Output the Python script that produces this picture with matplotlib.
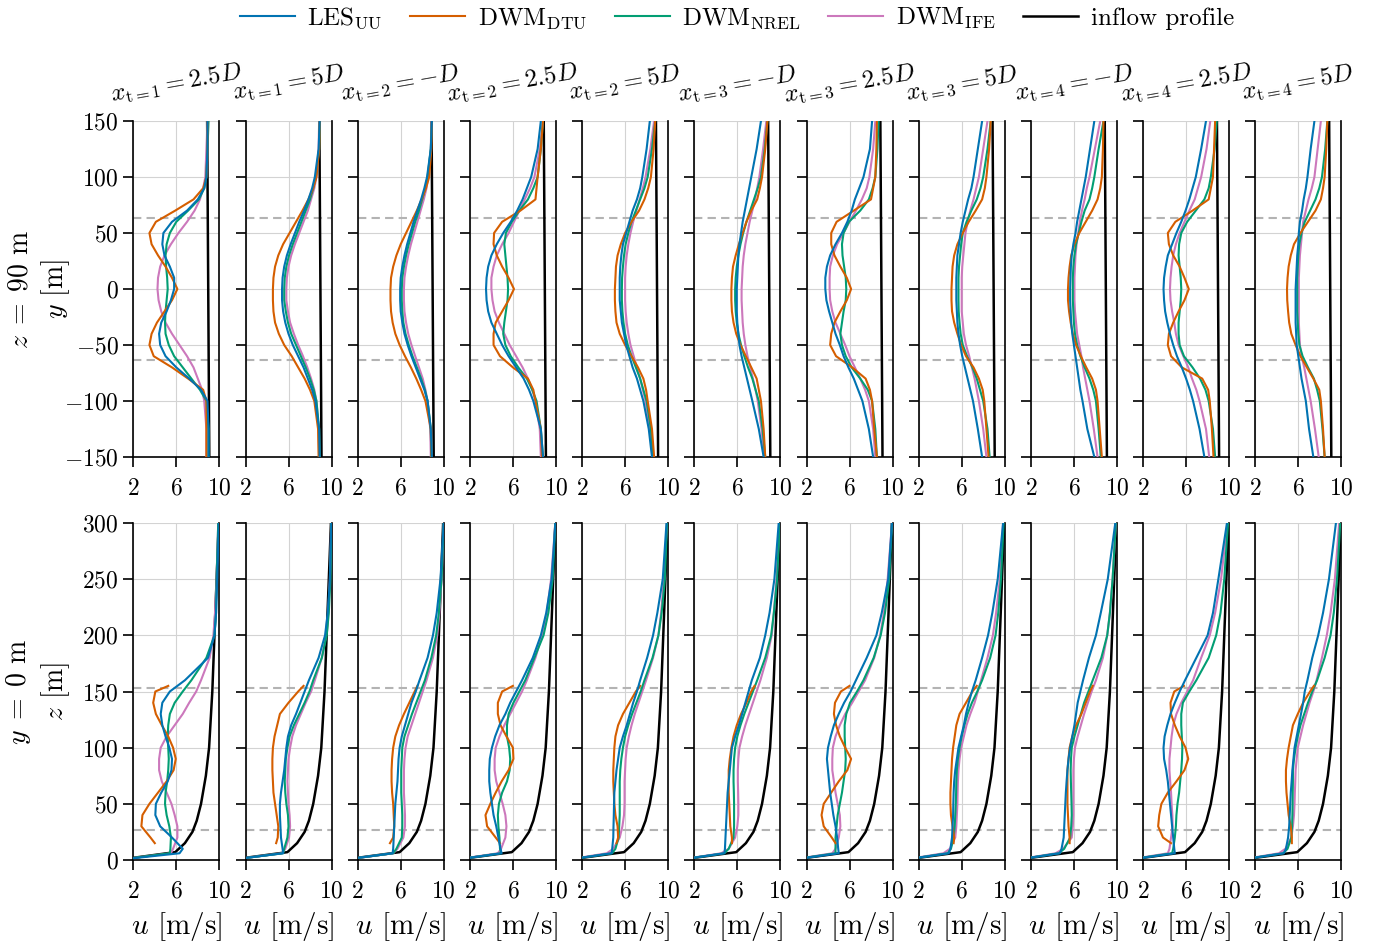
import matplotlib
matplotlib.use("Agg")
import matplotlib.pyplot as plt
from matplotlib.lines import Line2D

plt.rcParams.update({
    "font.family": "serif",
    "font.serif": ["cmr10"],
    "mathtext.fontset": "cm",
    "axes.formatter.use_mathtext": True,
})

TITLES = [r"$x_{\mathrm{t}=1} = 2.5D$", r"$x_{\mathrm{t}=1} = 5D$", r"$x_{\mathrm{t}=2} = -D$",
          r"$x_{\mathrm{t}=2} = 2.5D$", r"$x_{\mathrm{t}=2} = 5D$", r"$x_{\mathrm{t}=3} = -D$",
          r"$x_{\mathrm{t}=3} = 2.5D$", r"$x_{\mathrm{t}=3} = 5D$", r"$x_{\mathrm{t}=4} = -D$",
          r"$x_{\mathrm{t}=4} = 2.5D$", r"$x_{\mathrm{t}=4} = 5D$"]

# --- lateral profiles at hub height (z = 90 m), u [m/s] per panel ---
Y_TOP = [-150, -125, -100, -90, -80, -70, -60, -50, -40, -30, -20, -10, 0,
         10, 20, 30, 40, 50, 60, 70, 80, 90, 100, 125, 150]

LES_TOP = [
    [9.0, 9.0, 8.9, 8.3, 7.2, 6.0, 5.0, 4.5, 4.4, 4.6, 5.1, 5.5, 5.8, 5.8, 5.4, 4.9, 4.7, 4.8, 5.6, 7.0, 8.0, 8.6, 8.8, 8.9, 8.9],
    [8.9, 8.85, 8.5, 8.2, 7.8, 7.4, 6.9, 6.4, 6.0, 5.7, 5.5, 5.4, 5.4, 5.45, 5.6, 5.85, 6.2, 6.6, 7.0, 7.45, 7.85, 8.2, 8.45, 8.8, 8.9],
    [8.9, 8.8, 8.5, 8.2, 7.8, 7.4, 7.0, 6.65, 6.35, 6.15, 6.0, 5.95, 5.95, 6.0, 6.15, 6.35, 6.6, 6.9, 7.2, 7.55, 7.9, 8.2, 8.45, 8.8, 8.9],
    [8.8, 8.6, 7.9, 7.5, 7.0, 6.3, 5.6, 5.0, 4.5, 4.0, 3.7, 3.55, 3.5, 3.55, 3.7, 4.0, 4.5, 5.1, 5.8, 6.4, 6.9, 7.3, 7.7, 8.3, 8.6],
    [8.5, 8.2, 7.7, 7.4, 7.1, 6.7, 6.4, 6.1, 5.9, 5.7, 5.6, 5.5, 5.5, 5.5, 5.55, 5.65, 5.8, 6.1, 6.4, 6.7, 7.1, 7.4, 7.6, 8.0, 8.3],
    [8.45, 8.0, 7.4, 7.15, 6.9, 6.65, 6.4, 6.2, 6.1, 6.0, 5.95, 5.95, 5.95, 6.0, 6.05, 6.1, 6.2, 6.35, 6.5, 6.7, 6.9, 7.1, 7.3, 7.8, 8.2],
    [8.2, 7.8, 7.2, 6.8, 6.4, 5.9, 5.45, 5.1, 4.7, 4.4, 4.1, 3.85, 3.75, 3.75, 3.9, 4.2, 4.7, 5.3, 5.8, 6.2, 6.5, 6.9, 7.3, 7.9, 8.1],
    [7.9, 7.5, 7.05, 6.8, 6.55, 6.3, 6.05, 5.85, 5.7, 5.6, 5.55, 5.5, 5.5, 5.5, 5.55, 5.6, 5.75, 5.9, 6.1, 6.35, 6.6, 6.9, 7.1, 7.5, 7.9],
    [7.9, 7.25, 6.8, 6.6, 6.45, 6.3, 6.15, 6.0, 5.85, 5.75, 5.7, 5.65, 5.65, 5.68, 5.72, 5.8, 5.95, 6.15, 6.3, 6.5, 6.7, 6.9, 7.1, 7.5, 7.9],
    [7.7, 7.25, 6.65, 6.35, 6.0, 5.6, 5.15, 4.8, 4.5, 4.25, 4.05, 3.95, 3.9, 3.95, 4.1, 4.3, 4.7, 5.1, 5.55, 5.95, 6.3, 6.6, 6.9, 7.4, 7.85],
    [7.4, 7.0, 6.7, 6.5, 6.3, 6.15, 6.0, 5.85, 5.8, 5.75, 5.75, 5.75, 5.75, 5.8, 5.85, 5.9, 6.0, 6.05, 6.15, 6.35, 6.5, 6.7, 6.85, 7.15, 7.5],
]
DTU_TOP = [
    [8.8, 8.8, 8.8, 8.5, 7.1, 5.6, 3.9, 3.5, 3.7, 4.2, 4.9, 5.6, 6.1, 5.6, 5.0, 4.3, 3.7, 3.5, 4.1, 5.9, 7.6, 8.5, 8.8, 8.9, 8.9],
    [8.8, 8.75, 8.4, 8.0, 7.5, 6.9, 6.3, 5.6, 5.1, 4.75, 4.6, 4.55, 4.55, 4.6, 4.75, 5.05, 5.5, 6.1, 6.7, 7.3, 7.85, 8.3, 8.6, 8.85, 8.9],
    [8.85, 8.8, 8.3, 7.9, 7.45, 6.95, 6.4, 5.9, 5.5, 5.25, 5.1, 5.05, 5.05, 5.1, 5.3, 5.6, 6.0, 6.5, 7.0, 7.5, 7.95, 8.35, 8.65, 8.85, 8.9],
    [8.7, 8.6, 8.1, 7.9, 7.4, 6.0, 4.8, 4.2, 4.2, 4.4, 5.0, 5.6, 6.1, 5.6, 5.0, 4.5, 4.2, 4.25, 5.0, 6.7, 8.1, 8.2, 8.3, 8.6, 8.8],
    [8.7, 8.5, 8.1, 7.95, 7.7, 7.2, 6.6, 6.0, 5.5, 5.2, 5.1, 5.05, 5.05, 5.1, 5.15, 5.3, 5.6, 6.0, 6.6, 7.3, 7.8, 8.15, 8.4, 8.65, 8.8],
    [8.6, 8.45, 8.2, 8.0, 7.8, 7.3, 6.8, 6.3, 5.9, 5.65, 5.5, 5.45, 5.45, 5.5, 5.6, 5.85, 6.15, 6.5, 6.85, 7.3, 7.85, 8.1, 8.3, 8.6, 8.8],
    [8.55, 8.3, 8.1, 7.9, 7.5, 6.25, 4.75, 4.2, 4.3, 4.6, 5.15, 5.75, 6.15, 5.75, 5.15, 4.6, 4.3, 4.3, 4.8, 6.4, 8.0, 8.2, 8.4, 8.5, 8.55],
    [8.5, 8.3, 8.1, 7.95, 7.6, 7.1, 6.4, 5.95, 5.6, 5.3, 5.1, 5.05, 5.05, 5.1, 5.15, 5.3, 5.6, 6.1, 6.65, 7.3, 7.9, 8.15, 8.3, 8.55, 8.7],
    [8.6, 8.4, 8.2, 8.05, 7.7, 7.15, 6.65, 6.2, 5.9, 5.7, 5.55, 5.45, 5.45, 5.5, 5.6, 5.75, 6.05, 6.5, 7.1, 7.7, 8.2, 8.45, 8.6, 8.7, 8.75],
    [8.55, 8.4, 8.2, 8.05, 7.5, 5.6, 4.6, 4.3, 4.4, 4.8, 5.3, 5.85, 6.25, 5.85, 5.4, 4.8, 4.4, 4.3, 5.0, 6.6, 8.1, 8.3, 8.5, 8.6, 8.7],
    [8.45, 8.3, 8.1, 7.95, 7.4, 6.8, 6.2, 5.75, 5.35, 5.15, 5.05, 4.97, 4.95, 5.0, 5.1, 5.3, 5.6, 6.2, 6.9, 7.6, 8.1, 8.3, 8.45, 8.6, 8.7],
]
NREL_TOP = [
    [9.0, 9.0, 8.8, 8.2, 7.4, 6.6, 5.8, 5.3, 5.0, 4.95, 5.0, 5.1, 5.2, 5.15, 5.05, 5.0, 5.1, 5.4, 6.0, 7.1, 8.1, 8.6, 8.8, 8.9, 9.0],
    [8.9, 8.85, 8.6, 8.35, 8.0, 7.6, 7.15, 6.7, 6.25, 5.95, 5.75, 5.6, 5.6, 5.65, 5.8, 6.05, 6.4, 6.8, 7.2, 7.6, 8.0, 8.3, 8.55, 8.85, 8.9],
    [8.85, 8.8, 8.5, 8.25, 7.9, 7.5, 7.1, 6.75, 6.45, 6.25, 6.15, 6.1, 6.1, 6.15, 6.3, 6.5, 6.75, 7.05, 7.35, 7.7, 8.0, 8.3, 8.5, 8.8, 8.9],
    [8.8, 8.6, 8.2, 7.8, 7.3, 6.5, 5.8, 5.3, 5.1, 5.2, 5.35, 5.5, 5.55, 5.5, 5.4, 5.3, 5.2, 5.35, 5.9, 6.6, 7.4, 7.9, 8.3, 8.6, 8.8],
    [8.6, 8.4, 8.0, 7.7, 7.4, 7.0, 6.6, 6.25, 6.0, 5.85, 5.75, 5.7, 5.7, 5.72, 5.8, 5.9, 6.05, 6.3, 6.6, 7.0, 7.4, 7.8, 8.1, 8.5, 8.8],
    [8.6, 8.35, 8.0, 7.7, 7.4, 7.0, 6.65, 6.35, 6.1, 5.95, 5.85, 5.8, 5.8, 5.85, 5.95, 6.1, 6.3, 6.55, 6.85, 7.2, 7.55, 7.9, 8.2, 8.55, 8.8],
    [8.55, 8.4, 8.1, 7.7, 7.0, 6.2, 5.65, 5.3, 5.15, 5.3, 5.45, 5.65, 5.7, 5.65, 5.5, 5.35, 5.3, 5.45, 5.95, 7.0, 7.8, 8.15, 8.4, 8.6, 8.7],
    [8.6, 8.4, 8.0, 7.7, 7.4, 7.0, 6.5, 6.1, 5.9, 5.8, 5.72, 5.7, 5.7, 5.7, 5.75, 5.85, 5.95, 6.1, 6.45, 6.9, 7.4, 7.75, 8.0, 8.4, 8.7],
    [8.5, 8.3, 8.05, 7.8, 7.45, 7.0, 6.6, 6.3, 6.1, 6.0, 5.95, 5.9, 5.9, 5.9, 5.95, 6.05, 6.2, 6.45, 6.7, 7.0, 7.45, 7.7, 7.9, 8.3, 8.75],
    [8.7, 8.5, 8.1, 7.8, 7.3, 6.6, 5.8, 5.4, 5.3, 5.3, 5.4, 5.5, 5.55, 5.5, 5.4, 5.3, 5.35, 5.55, 6.1, 6.9, 7.7, 8.1, 8.3, 8.65, 8.85],
    [8.45, 8.25, 8.0, 7.75, 7.45, 6.9, 6.4, 6.1, 6.0, 5.95, 5.9, 5.9, 5.9, 5.9, 5.95, 6.0, 6.1, 6.3, 6.6, 7.1, 7.6, 7.95, 8.2, 8.5, 8.7],
]
IFE_TOP = [
    [8.8, 8.8, 8.6, 8.4, 8.0, 7.6, 7.0, 6.3, 5.6, 5.0, 4.6, 4.35, 4.25, 4.3, 4.5, 4.9, 5.5, 6.2, 7.0, 7.7, 8.2, 8.5, 8.7, 8.8, 8.9],
    [8.85, 8.8, 8.6, 8.4, 8.1, 7.75, 7.35, 6.9, 6.5, 6.15, 5.95, 5.8, 5.8, 5.85, 6.0, 6.25, 6.6, 7.0, 7.4, 7.8, 8.1, 8.4, 8.6, 8.8, 8.85],
    [8.8, 8.75, 8.5, 8.3, 8.05, 7.7, 7.35, 7.0, 6.7, 6.5, 6.35, 6.3, 6.3, 6.35, 6.5, 6.7, 6.95, 7.25, 7.55, 7.85, 8.15, 8.4, 8.55, 8.8, 8.85],
    [8.6, 8.5, 8.1, 7.8, 7.4, 6.9, 6.3, 5.7, 5.2, 4.7, 4.3, 4.1, 4.0, 4.0, 4.2, 4.5, 5.0, 5.6, 6.1, 6.6, 7.1, 7.6, 8.0, 8.5, 8.8],
    [8.6, 8.3, 7.9, 7.65, 7.4, 7.1, 6.8, 6.5, 6.3, 6.15, 6.05, 6.0, 6.0, 6.0, 6.05, 6.15, 6.3, 6.5, 6.75, 7.05, 7.35, 7.65, 7.9, 8.35, 8.7],
    [8.5, 8.25, 7.9, 7.7, 7.45, 7.2, 6.95, 6.75, 6.6, 6.5, 6.45, 6.4, 6.4, 6.45, 6.5, 6.6, 6.75, 6.95, 7.15, 7.4, 7.65, 7.85, 8.05, 8.4, 8.7],
    [8.4, 8.2, 7.8, 7.45, 7.0, 6.5, 6.0, 5.6, 5.15, 4.7, 4.4, 4.2, 4.15, 4.15, 4.2, 4.45, 4.85, 5.45, 6.0, 6.6, 7.15, 7.6, 7.85, 8.2, 8.4],
    [8.3, 8.0, 7.6, 7.4, 7.2, 6.95, 6.7, 6.4, 6.2, 6.1, 6.0, 6.0, 6.0, 6.0, 6.05, 6.15, 6.25, 6.35, 6.55, 6.8, 7.1, 7.35, 7.6, 8.0, 8.4],
    [8.2, 7.85, 7.45, 7.25, 7.05, 6.85, 6.7, 6.5, 6.3, 6.2, 6.1, 6.05, 6.05, 6.05, 6.1, 6.15, 6.25, 6.4, 6.55, 6.75, 7.0, 7.2, 7.45, 7.95, 8.45],
    [8.15, 7.85, 7.25, 6.95, 6.55, 6.2, 5.75, 5.3, 5.05, 4.9, 4.7, 4.55, 4.5, 4.55, 4.65, 4.8, 5.05, 5.4, 5.85, 6.3, 6.8, 7.1, 7.4, 7.9, 8.25],
    [7.9, 7.55, 7.15, 6.95, 6.75, 6.55, 6.3, 6.15, 6.1, 6.05, 6.05, 6.05, 6.05, 6.05, 6.1, 6.15, 6.25, 6.35, 6.45, 6.7, 6.95, 7.25, 7.5, 7.8, 8.1],
]
Y_INFLOW = [-150, 0, 150]
U_INFLOW_Y = [9.07, 8.97, 8.87]

# --- vertical profiles at y = 0 m ---
Z_BOT = [0, 6, 10, 20, 30, 40, 50, 60, 70, 80, 90, 100, 110, 120, 130, 140,
         150, 160, 180, 200, 220, 250, 300]
Z_DTU = [15, 20, 30, 40, 50, 60, 70, 80, 90, 100, 110, 120, 130, 140, 150, 155]

LES_BOT = [
    [0.5, 6.3, 6.6, 5.6, 4.5, 4.05, 4.1, 4.6, 5.2, 5.55, 5.6, 5.35, 5.0, 4.7, 4.55, 4.7, 5.4, 6.8, 8.95, 9.55, 9.7, 9.8, 9.95],
    [0.5, 5.5, 5.45, 5.3, 5.25, 5.2, 5.2, 5.3, 5.45, 5.6, 5.7, 5.8, 5.95, 6.25, 6.7, 7.1, 7.5, 7.9, 8.8, 9.4, 9.65, 9.85, 9.98],
    [0.5, 5.25, 5.3, 5.35, 5.4, 5.45, 5.5, 5.6, 5.7, 5.75, 5.8, 5.9, 6.1, 6.4, 6.7, 7.0, 7.4, 7.75, 8.5, 9.0, 9.35, 9.7, 10.0],
    [0.5, 4.95, 4.85, 4.65, 4.45, 4.2, 4.05, 3.9, 3.8, 3.8, 3.85, 4.05, 4.35, 4.75, 5.3, 5.75, 6.3, 6.85, 7.85, 8.6, 9.1, 9.6, 9.95],
    [0.5, 4.75, 4.8, 4.9, 4.92, 4.95, 4.97, 5.0, 5.1, 5.2, 5.35, 5.5, 5.8, 6.15, 6.45, 6.75, 7.1, 7.4, 8.05, 8.6, 9.0, 9.5, 9.85],
    [0.5, 4.8, 4.85, 4.9, 4.95, 5.0, 5.05, 5.1, 5.2, 5.3, 5.4, 5.5, 5.8, 6.15, 6.45, 6.75, 7.05, 7.35, 8.1, 8.6, 9.0, 9.45, 9.85],
    [0.5, 5.0, 4.95, 4.85, 4.7, 4.5, 4.35, 4.2, 4.1, 4.0, 3.9, 4.0, 4.25, 4.55, 5.0, 5.5, 6.1, 6.6, 7.6, 8.5, 9.0, 9.6, 9.95],
    [0.5, 4.8, 4.95, 5.1, 5.15, 5.2, 5.22, 5.25, 5.3, 5.4, 5.55, 5.7, 5.95, 6.2, 6.4, 6.65, 6.95, 7.3, 7.9, 8.45, 8.85, 9.35, 9.85],
    [0.5, 4.7, 4.85, 5.05, 5.1, 5.15, 5.2, 5.25, 5.32, 5.4, 5.5, 5.65, 5.85, 6.05, 6.2, 6.35, 6.6, 6.85, 7.4, 8.05, 8.5, 9.15, 9.85],
    [0.5, 4.95, 4.9, 4.8, 4.7, 4.6, 4.5, 4.4, 4.3, 4.15, 3.95, 3.9, 4.0, 4.25, 4.55, 4.95, 5.4, 5.9, 6.95, 8.0, 8.5, 9.0, 9.8],
    [0.5, 4.65, 4.85, 5.05, 5.15, 5.2, 5.25, 5.3, 5.38, 5.45, 5.55, 5.65, 5.85, 6.05, 6.25, 6.45, 6.6, 6.85, 7.3, 7.85, 8.3, 8.85, 9.5],
]
DTU_BOT = [
    [4.0, 3.6, 2.75, 2.85, 3.5, 4.3, 5.1, 5.75, 5.95, 5.7, 5.25, 4.65, 4.1, 3.85, 4.05, 5.25],
    [4.85, 5.0, 5.05, 4.9, 4.75, 4.6, 4.55, 4.5, 4.5, 4.55, 4.7, 4.95, 5.2, 6.0, 6.9, 7.4],
    [5.0, 5.3, 5.4, 5.35, 5.3, 5.2, 5.15, 5.15, 5.2, 5.3, 5.5, 5.85, 6.3, 6.8, 7.3, 7.55],
    [4.8, 4.4, 3.6, 3.45, 3.9, 4.4, 4.95, 5.6, 6.05, 6.0, 5.4, 4.85, 4.6, 4.6, 5.0, 6.0],
    [5.2, 5.35, 5.3, 5.1, 5.0, 4.95, 4.9, 4.9, 4.95, 5.0, 5.1, 5.35, 5.8, 6.4, 7.0, 7.4],
    [5.5, 5.5, 5.35, 5.3, 5.25, 5.2, 5.2, 5.2, 5.3, 5.45, 5.65, 5.95, 6.35, 6.85, 7.3, 7.6],
    [4.7, 4.35, 3.6, 3.4, 3.6, 4.3, 5.0, 5.8, 6.15, 5.6, 5.1, 4.75, 4.55, 4.65, 5.2, 6.0],
    [5.25, 5.3, 5.15, 5.0, 4.95, 4.95, 5.0, 5.05, 5.1, 5.2, 5.35, 5.5, 5.8, 6.4, 7.0, 7.4],
    [5.6, 5.6, 5.5, 5.45, 5.4, 5.4, 5.4, 5.4, 5.5, 5.6, 5.85, 6.2, 6.7, 7.1, 7.5, 7.75],
    [4.6, 3.85, 3.4, 3.5, 3.7, 4.3, 5.1, 5.85, 6.2, 5.95, 5.4, 4.95, 4.6, 4.55, 4.9, 5.8],
    [5.4, 5.4, 5.3, 5.1, 5.0, 4.9, 4.85, 4.85, 4.95, 5.1, 5.3, 5.5, 5.95, 6.45, 7.1, 7.45],
]
NREL_BOT = [
    [0.5, 5.4, 5.45, 5.5, 5.35, 5.1, 4.95, 5.0, 5.15, 5.25, 5.3, 5.25, 5.2, 5.25, 5.4, 5.85, 6.6, 7.4, 8.8, 9.55, 9.7, 9.75, 9.9],
    [0.5, 5.5, 5.6, 5.9, 6.0, 5.95, 5.8, 5.7, 5.65, 5.7, 5.75, 5.9, 6.1, 6.5, 7.0, 7.5, 7.95, 8.3, 9.1, 9.55, 9.75, 9.9, 9.98],
    [0.5, 5.3, 5.6, 6.1, 6.15, 6.15, 6.1, 6.05, 6.05, 6.05, 6.1, 6.15, 6.35, 6.7, 7.05, 7.45, 7.85, 8.25, 8.85, 9.3, 9.55, 9.8, 10.0],
    [0.5, 4.9, 4.8, 4.75, 4.65, 4.6, 4.7, 5.0, 5.45, 5.7, 5.75, 5.65, 5.45, 5.45, 5.6, 6.05, 6.6, 7.15, 8.0, 8.85, 9.3, 9.7, 9.95],
    [0.5, 4.8, 5.1, 5.4, 5.45, 5.5, 5.5, 5.5, 5.5, 5.55, 5.65, 5.8, 6.0, 6.3, 6.65, 7.05, 7.45, 7.8, 8.55, 9.1, 9.4, 9.7, 9.9],
    [0.5, 4.8, 5.2, 5.65, 5.7, 5.7, 5.7, 5.68, 5.65, 5.65, 5.7, 5.8, 6.0, 6.3, 6.65, 7.05, 7.45, 7.85, 8.6, 9.15, 9.4, 9.7, 9.95],
    [0.5, 4.7, 4.7, 4.7, 4.8, 4.9, 5.1, 5.3, 5.45, 5.6, 5.65, 5.6, 5.55, 5.55, 5.7, 6.05, 6.7, 7.3, 8.25, 8.9, 9.3, 9.7, 9.95],
    [0.5, 4.7, 5.0, 5.25, 5.35, 5.4, 5.45, 5.48, 5.5, 5.55, 5.65, 5.8, 6.0, 6.25, 6.55, 6.95, 7.45, 7.9, 8.65, 9.15, 9.4, 9.65, 9.9],
    [0.5, 4.6, 5.1, 5.65, 5.75, 5.8, 5.78, 5.75, 5.72, 5.7, 5.73, 5.8, 6.05, 6.35, 6.65, 6.95, 7.35, 7.75, 8.55, 9.1, 9.35, 9.6, 9.9],
    [0.5, 4.7, 4.8, 4.95, 5.05, 5.1, 5.2, 5.35, 5.45, 5.55, 5.62, 5.65, 5.6, 5.55, 5.55, 5.7, 6.3, 6.95, 8.1, 8.8, 9.2, 9.55, 9.9],
    [0.5, 4.6, 5.0, 5.35, 5.42, 5.45, 5.47, 5.48, 5.5, 5.5, 5.6, 5.75, 5.95, 6.2, 6.55, 6.9, 7.3, 7.75, 8.45, 9.0, 9.3, 9.6, 9.9],
]
IFE_BOT = [
    [0.5, 5.5, 5.7, 6.1, 6.1, 5.85, 5.55, 5.1, 4.65, 4.4, 4.4, 4.55, 5.1, 5.85, 6.6, 7.2, 7.85, 8.3, 9.1, 9.45, 9.6, 9.75, 9.9],
    [0.5, 5.4, 5.7, 6.05, 6.15, 6.1, 6.0, 5.95, 5.9, 5.95, 6.0, 6.15, 6.35, 6.7, 7.15, 7.6, 8.1, 8.45, 9.1, 9.5, 9.7, 9.85, 9.98],
    [0.5, 5.3, 5.7, 6.25, 6.4, 6.4, 6.35, 6.3, 6.3, 6.3, 6.35, 6.45, 6.65, 7.0, 7.35, 7.7, 8.05, 8.4, 9.0, 9.4, 9.6, 9.8, 10.0],
    [0.5, 4.6, 4.9, 5.3, 5.4, 5.3, 5.05, 4.75, 4.45, 4.3, 4.3, 4.4, 4.75, 5.2, 5.75, 6.3, 6.85, 7.3, 8.1, 8.7, 9.15, 9.55, 9.95],
    [0.5, 4.3, 4.9, 5.5, 5.75, 5.9, 5.95, 5.95, 5.95, 6.0, 6.05, 6.15, 6.35, 6.6, 6.9, 7.25, 7.6, 7.95, 8.6, 9.1, 9.35, 9.6, 9.9],
    [0.5, 4.5, 5.2, 5.8, 6.0, 6.1, 6.1, 6.08, 6.05, 6.05, 6.1, 6.2, 6.45, 6.75, 7.1, 7.45, 7.8, 8.15, 8.75, 9.2, 9.4, 9.65, 9.95],
    [0.5, 4.4, 4.7, 5.0, 5.15, 5.1, 4.9, 4.7, 4.55, 4.4, 4.4, 4.45, 4.7, 5.1, 5.6, 6.25, 6.85, 7.45, 8.3, 8.85, 9.2, 9.55, 9.95],
    [0.5, 4.3, 4.9, 5.4, 5.5, 5.55, 5.6, 5.62, 5.65, 5.7, 5.8, 5.95, 6.2, 6.45, 6.8, 7.2, 7.5, 7.8, 8.4, 8.9, 9.2, 9.55, 9.85],
    [0.5, 4.3, 5.0, 5.8, 5.9, 5.95, 5.95, 5.95, 5.95, 5.95, 6.0, 6.1, 6.35, 6.65, 6.95, 7.3, 7.65, 8.05, 8.7, 9.1, 9.35, 9.6, 9.9],
    [0.5, 4.3, 4.45, 4.6, 4.75, 4.72, 4.65, 4.6, 4.52, 4.45, 4.45, 4.55, 4.65, 4.8, 5.1, 5.55, 6.1, 6.65, 7.4, 8.2, 8.7, 9.25, 9.85],
    [0.5, 4.2, 4.8, 5.35, 5.5, 5.6, 5.65, 5.68, 5.72, 5.75, 5.85, 5.95, 6.2, 6.45, 6.75, 7.05, 7.4, 7.7, 8.2, 8.65, 9.0, 9.4, 9.8],
]
Z_INFLOW = [0, 7, 15, 25, 35, 50, 75, 100, 150, 200, 250, 300]
U_INFLOW_Z = [0.5, 5.9, 6.8, 7.5, 7.9, 8.3, 8.75, 9.05, 9.35, 9.55, 9.75, 9.95]

C_LES, C_DTU, C_NREL, C_IFE = "#0173B2", "#D55E00", "#029E73", "#CC78BC"
LW = 1.5

W, H = 1381, 946
fig = plt.figure(figsize=(W / 100, H / 100), dpi=100)

x0_px, step_px, w_px = 133.3, 112.2, 86.0
rows = [(121, 457), (523, 860)]
# y-label anchor (its right-hand edge after rotation) sits ~72 px from the figure's left edge
YLAB_X = (72 - x0_px) / w_px


def style(ax, first, bottom_row):
    ax.set_xlim(2, 10)
    ax.set_xticks([2, 6, 10])
    ax.grid(True, color="#d3d3d3", lw=0.8)
    ax.set_axisbelow(True)
    ax.spines["top"].set_visible(False)
    for s in ("left", "right", "bottom"):
        ax.spines[s].set_linewidth(1.2)
    ax.tick_params(direction="out", length=7, width=1.2, labelsize=17)
    ax.tick_params(axis="x", pad=8)
    if not first:
        ax.tick_params(labelleft=False)
    if bottom_row:
        ax.set_xlabel(r"$u$ [m/s]", fontsize=21, labelpad=5)


dash = dict(color="#b3b3b3", lw=1.5, ls=(0, (4, 2.5)), zorder=1)

for i in range(11):
    left = (x0_px + i * step_px) / W
    # top row: lateral profiles
    t, b = rows[0]
    ax = fig.add_axes([left, 1 - b / H, w_px / W, (b - t) / H])
    ax.plot(U_INFLOW_Y, Y_INFLOW, color="k", lw=1.8, zorder=2)
    ax.plot(IFE_TOP[i], Y_TOP, color=C_IFE, lw=LW, zorder=3)
    ax.plot(NREL_TOP[i], Y_TOP, color=C_NREL, lw=LW, zorder=3)
    ax.plot(DTU_TOP[i], Y_TOP, color=C_DTU, lw=LW, zorder=3)
    ax.plot(LES_TOP[i], Y_TOP, color=C_LES, lw=LW, zorder=4)
    for yy in (-63, 63):
        ax.axhline(yy, **dash)
    ax.set_ylim(-150, 150)
    ax.set_yticks(range(-150, 151, 50))
    style(ax, i == 0, False)
    ax.text(0.5, 1.11, TITLES[i], transform=ax.transAxes, rotation=10,
            rotation_mode="anchor", ha="center", va="center", fontsize=18)
    if i == 0:
        ax.set_ylabel(r"$z\;=\;90$ m" + "\n" + r"$y$ [m]", fontsize=20, linespacing=1.25)
        ax.yaxis.set_label_coords(YLAB_X, 0.5)

    # bottom row: vertical profiles
    t, b = rows[1]
    ax = fig.add_axes([left, 1 - b / H, w_px / W, (b - t) / H])
    ax.plot(U_INFLOW_Z, Z_INFLOW, color="k", lw=1.8, zorder=2)
    ax.plot(IFE_BOT[i], Z_BOT, color=C_IFE, lw=LW, zorder=3)
    ax.plot(NREL_BOT[i], Z_BOT, color=C_NREL, lw=LW, zorder=3)
    ax.plot(DTU_BOT[i], Z_DTU, color=C_DTU, lw=LW, zorder=3)
    ax.plot(LES_BOT[i], Z_BOT, color=C_LES, lw=LW, zorder=4)
    for zz in (27, 153):
        ax.axhline(zz, **dash)
    ax.set_ylim(0, 300)
    ax.set_yticks(range(0, 301, 50))
    style(ax, i == 0, True)
    if i == 0:
        ax.set_ylabel(r"$y\;=\;0$ m" + "\n" + r"$z$ [m]", fontsize=20, linespacing=1.25)
        ax.yaxis.set_label_coords(YLAB_X, 0.5)

handles = [Line2D([], [], color=C_LES, lw=LW), Line2D([], [], color=C_DTU, lw=LW),
           Line2D([], [], color=C_NREL, lw=LW), Line2D([], [], color=C_IFE, lw=LW),
           Line2D([], [], color="k", lw=1.8)]
labels = [r"LES$_{\mathrm{UU}}$", r"DWM$_{\mathrm{DTU}}$", r"DWM$_{\mathrm{NREL}}$",
          r"DWM$_{\mathrm{IFE}}$", "inflow profile"]
fig.legend(handles, labels, loc="center", bbox_to_anchor=(737 / W, 1 - 18 / H),
           ncol=5, frameon=False, fontsize=18, handlelength=2.2, columnspacing=1.1,
           handletextpad=0.5)

fig.savefig("out.png", dpi=100)
